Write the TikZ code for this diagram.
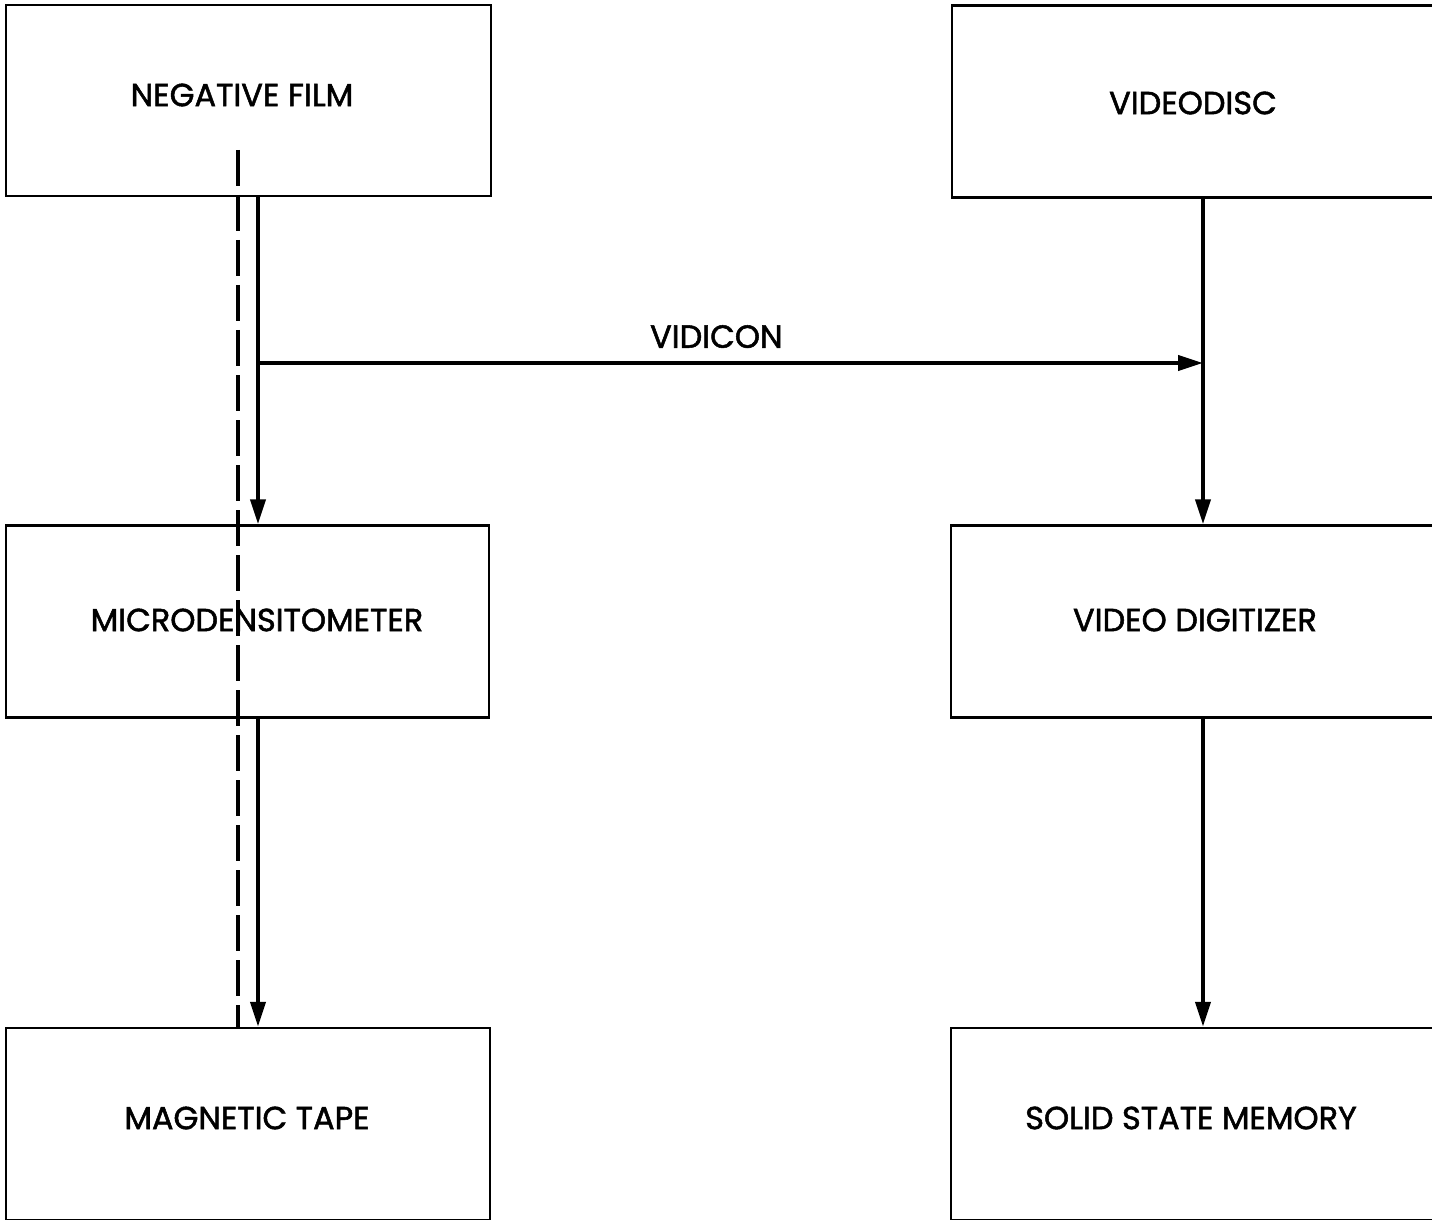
\documentclass[tikz,border=0pt]{standalone}
\usepackage{fontspec}
\setmainfont{Poppins}[FakeBold=1.6]
\usetikzlibrary{arrows.meta}
\begin{document}
\begin{tikzpicture}[x=0.5pt,y=-0.5pt,
  box/.style={draw,line width=1.2pt,minimum width=#1*0.5pt,minimum height=96pt,inner sep=0pt},
  lbl/.style={font=\fontsize{16}{18}\selectfont,inner sep=0pt,anchor=center},
  arr/.style={line width=2pt,-{Triangle[length=12.5pt,width=7.5pt]}},
  dsh/.style={line width=1.6pt,dash pattern=on 18pt off 4.5pt}]
\useasboundingbox (0,0) rectangle (1432,1220);
\clip (0,0) rectangle (1432,1220);
% boxes
\node[box=485,minimum height=95.5pt] (neg) at (248.5,100.5) {};
\node[box=488] (disc) at (1196,101.5) {};
\node[box=483] (micro) at (247.5,621.5) {};
\node[box=488] (digi) at (1195,621.5) {};
\node[box=484] (mag) at (248,1124) {};
\node[box=488] (mem) at (1195,1124) {};
% labels
\node[lbl] (negT) at (242,95) {NEGATIVE FILM};
\node[lbl] (discT) at (1193,103) {VIDEODISC};
\node[lbl] (microT) at (257,620) {MICRODENSITOMETER};
\node[lbl] (digiT) at (1195,620) {VIDEO DIGITIZER};
\node[lbl] (magT) at (247,1118) {MAGNETIC TAPE};
\node[lbl] (memT) at (1191,1118) {SOLID STATE MEMORY};
% guide coordinates
\coordinate (L) at (258,0);
\coordinate (R) at (1203,0);
\coordinate (D) at (238,150);
\coordinate (V) at (258,363);
% connectors
\draw[arr] (neg.south -| L) -- (micro.north -| L);
\draw[arr] (micro.south -| L) -- (mag.north -| L);
\draw[arr] (disc.south -| R) -- (digi.north -| R);
\draw[arr] (digi.south -| R) -- (mem.north -| R);
\draw[arr] (V) -- (V -| R) node[lbl,pos=0.485,above=6.5pt] (vid) {VIDICON};
\draw[dsh] (D) -- (mag.north -| D);
\end{tikzpicture}
\end{document}
